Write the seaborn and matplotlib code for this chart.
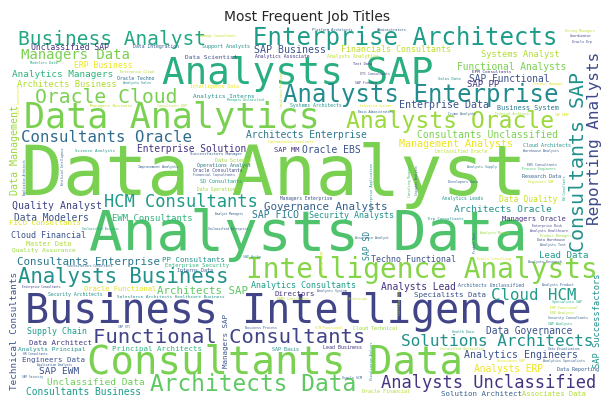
import matplotlib
matplotlib.use("Agg")
import matplotlib.pyplot as plt
import seaborn as sns

sns.set_theme(style="white")
plt.rcParams['font.family'] = ['DejaVu Sans']

# job titles and how large each one is drawn (relative frequency, in px of em)
job_titles = [
    "Data Analyst", "Analysts Data", "Business Intelligence", "Analysts SAP", "Consultants Data",
    "Data Analytics", "Intelligence Analysts", "Enterprise Architects", "Analysts Enterprise", "Analysts Oracle",
    "Architects Data", "Analysts Business", "Functional Consultants", "Consultants SAP", "Oracle Cloud",
    "Business Analyst", "Analysts Unclassified", "HCM Consultants", "Reporting Analysts", "Solutions Architects",
    "Consultants Oracle", "Cloud HCM", "Managers Data", "Consultants Enterprise", "Governance Analysts",
    "Architects SAP", "Data Management", "SAP Business", "Enterprise Data", "Management Analysts",
    "Analytics Engineers", "Quality Analyst", "Consultants Unclassified", "Oracle EBS", "SAP FICO",
    "Data Governance", "Analysts Lead", "SAP Functional", "Analysts ERP", "Functional Analysts",
    "Data Modelers", "Consultants Business", "Architects Enterprise", "Enterprise Solution", "Unclassified Data",
    "SAP EWM", "Architects Oracle", "Analytics Managers", "Technical Consultants", "Lead Data",
    "EWM Consultants", "SAP PP", "Architects Business", "Systems Analyst", "SAP Successfactors",
    "Financials Consultants", "Security Analysts", "Analytics Consultants", "Cloud Financial", "Techno Functional",
    "Supply Chain", "Unclassified SAP", "ERP Business", "Data Quality", "SAP SD",
    "FICO Consultants", "Specialists Data", "Managers SAP", "PP Consultants", "Data Architect",
    "Principal Architects", "Engineers Data", "Directors", "Solution Architect", "Managers Oracle",
    "Associates Data", "Oracle Functional", "SAP MM", "Business System", "Master Data",
    "Data Scientist", "Quality Assurance", "Analysts Principal", "Analytics Interns", "Enterprise Security",
    "Support Analysts", "Data Science", "Operations Analyst", "SD Consultants", "Cloud Architects",
    "Research Data", "Cloud Technical", "Lead Business", "SAP Basis", "Oracle Financial",
    "Data Reporting", "Interns Data", "Data Integration", "Oracle Techno", "Analysts Analytics",
    "Analytics Associate", "Systems Architects", "Security Architects", "Architects Unclassified", "Intelligence Data",
    "Managers Enterprise", "Oracle Consultants", "Data Operations", "Analytics Leads", "Unclassified Oracle",
    "Salesforce Architects Healthcare Business", "EPM Consultants", "Science Analysts", "Managers Business", "Successfactors Manager",
    "Erp Consultants", "Oracle HCM", "Modelers Data", "Enterprise Cloud", "Platform Architects",
    "Administrators", "Text Data", "Sales Data", "Enterprise Application", "Analysts Sales",
    "Improvement Analysts", "Analysts Master", "Associates SAP", "Consultants ERP", "Hiring Managers",
    "Coordinator", "Oracle Erp", "Financial Consultants", "Warehouse Analysts", "Analysts Supply",
    "EBS Consultants", "Developers Data", "Engineers SAP", "Assurance Analyst", "Technician",
    "Oracle Consulting", "Analysts Research", "Enterprise Risk", "Analysts Healthcare", "Product Managers",
    "Data Warehouse", "Analysts Test", "Analysts Product", "Specialists SAP", "ERP Functional",
    "ERP Analysts", "Security Consultants", "SAP Analysts", "Health Data", "Business Process",
    "SCM Functional", "Oracle SCM", "Change Consultants", "OTC Consultants", "SAP Finance",
    "Crime Analysts", "Project Manager", "Process Engineers", "SAP Ariba", "Analysts System",
    "HRMS Consultants", "Analytics Specialists", "Managers Unclassified", "Enterprise Systems", "Basis Administrators",
    "Technical Architects", "SAP ABAP", "Implementation Consultants", "Analyst Managers", "Unclassified Business",
    "Successfactors Consultants", "Enterprise Consultants", "Unclassified Enterprise", "Unclassified Unclassified", "Data Visualization",
    "SAP OTC", "HR Consultants", "Application Analysts", "SAP Security", "Consultants Principal",
    "Consulting Managers", "Insights Analysts", "BW Consultants", "Product Data", "Visualization Analysts",
    "Sales Consultants", "Functional Data", "Application Architects", "Artificial Intelligence",
]
frequency = [
    70, 56, 40, 37.5, 39,
    35, 27.8, 24, 24, 23,
    22.7, 20.7, 20.5, 20, 19.8,
    19.5, 17, 17, 16, 16,
    15.8, 15.7, 14, 10.9, 10.9,
    10.7, 10, 10, 10, 10,
    9.9, 9.9, 9.8, 9.8, 9.8,
    9.7, 9.7, 9.7, 9.7, 9.6,
    9.6, 9.6, 9.6, 9.6, 9.5,
    9.5, 9.5, 9.4, 9.3, 9.2,
    8.9, 8.9, 8.7, 8.6, 8.6,
    8.4, 8.4, 8.4, 8.4, 8.3,
    8.3, 8.1, 8, 8, 8,
    7.5, 7.5, 7.5, 7.4, 7.4,
    7.4, 7.4, 7.4, 7.4, 7.2,
    7.1, 7.1, 7, 6.9, 6.8,
    6.2, 6.2, 6.2, 6, 5.7,
    5, 5, 5, 5, 5,
    5, 5, 5, 5, 5,
    5, 5, 4.9, 4.9, 4.9,
    4.8, 4.8, 4.8, 4.8, 4.7,
    4.6, 4.5, 4.5, 4.5, 4.5,
    4.4, 4.4, 4.1, 4.1, 4,
    4, 4, 3.6, 3.6, 3.6,
    3.6, 3.6, 3.7, 3.5, 3.4,
    3.4, 3.4, 3.4, 3.3, 3.3,
    3.3, 3.3, 3.3, 3.3, 3.3,
    3.3, 3.3, 3.3, 3.3, 3.3,
    3.3, 3.3, 3.3, 3.3, 3.3,
    3.3, 3.3, 3.3, 3.3, 3.3,
    3.3, 3.3, 3.3, 3.3, 3.3,
    3.3, 3.3, 3.2, 3.2, 3.2,
    3.2, 3.2, 3.2, 3.2, 3.2,
    3.2, 3.2, 3, 3, 3,
    3, 3, 3, 3, 3,
    3, 3, 3, 3, 3,
    3, 3, 3, 3, 3,
    3, 3, 3, 3, 3,
    3, 3, 2.8, 2.8,
]

# where the cloud put each word: x, y in image px (left/baseline, or centre/bottom when
# vertical), rotation, position on the viridis map
layout = {
    "Data Analyst": (27, 195, 0, 0.80), "Analysts SAP": (165, 84, 0, 0.63),
    "Analysts Data": (93, 250, 0, 0.72), "Business Intelligence": (28, 323, 0, 0.20),
    "Consultants Data": (90, 374, 0, 0.80), "Data Analytics": (27, 128, 0, 0.80),
    "Intelligence Analysts": (248, 278, 0, 0.82), "Enterprise Architects": (255, 45, 0, 0.55),
    "Analysts Enterprise": (285, 102, 0, 0.48), "Analysts Oracle": (348, 128, 0, 0.85),
    "Architects Data": (152, 391, 0, 0.75), "Analysts Business": (20, 283, 0, 0.50),
    "Functional Consultants": (95, 343, 0, 0.20), "Consultants SAP": (578, 252, 90, 0.50),
    "Oracle Cloud": (37, 103, 0, 0.80), "Business Analyst": (20, 45, 0, 0.60),
    "Analysts Unclassified": (382, 388, 0, 0.15), "HCM Consultants": (105, 207, 0, 0.55),
    "Reporting Analysts": (595, 225, 90, 0.22), "Solutions Architects": (402, 346, 0, 0.50),
    "Consultants Oracle": (22, 142, 0, 0.35), "Cloud HCM": (492, 300, 0, 0.55),
    "Managers Data": (22, 59, 0, 0.80), "Consultants Enterprise": (18, 265, 0, 0.40),
    "Governance Analysts": (265, 210, 0, 0.30), "Architects SAP": (158, 294, 0, 0.75),
    "Data Management": (15, 195, 90, 0.85), "SAP Business": (255, 53, 0, 0.25),
    "Enterprise Data": (400, 108, 0, 0.25), "Management Analysts": (400, 147, 0, 0.97),
    "Analytics Engineers": (465, 358, 0, 0.25), "Quality Analyst": (13, 209, 0, 0.20),
    "Consultants Unclassified": (418, 138, 0, 0.80), "Oracle EBS": (303, 153, 0, 0.25),
    "SAP FICO": (253, 218, 0, 0.40), "Data Governance": (487, 334, 0, 0.25),
    "Analysts Lead": (382, 290, 0, 0.15), "SAP Functional": (470, 82, 0, 0.25),
    "Analysts ERP": (475, 372, 0, 0.98), "Functional Analysts": (458, 70, 0, 0.80),
    "Data Modelers": (15, 221, 0, 0.25), "Consultants Business": (27, 395, 0, 0.55),
    "Architects Enterprise": (247, 138, 0, 0.40), "Enterprise Solution": (138, 152, 0, 0.15),
    "Unclassified Data": (48, 385, 0, 0.78), "SAP EWM": (40, 374, 0, 0.25),
    "Architects Oracle": (455, 212, 0, 0.50), "Analytics Managers": (13, 77, 0, 0.65),
    "Technical Consultants": (15, 390, 90, 0.25), "Lead Data": (540, 258, 0, 0.55),
    "EWM Consultants": (113, 221, 0, 0.65), "SAP PP": (468, 87, 0, 0.15),
    "Architects Business": (18, 87, 0, 0.88), "Systems Analyst": (482, 57, 0, 0.88),
    "SAP Successfactors": (598, 368, 90, 0.50), "Financials Consultants": (342, 52, 0, 0.90),
    "Security Analysts": (310, 218, 0, 0.50), "Analytics Consultants": (252, 288, 0, 0.55),
    "Cloud Financial": (12, 238, 0, 0.25), "Techno Functional": (372, 262, 0, 0.25),
    "Supply Chain": (28, 334, 0, 0.55), "Unclassified SAP": (32, 50, 0, 0.15),
    "ERP Business": (75, 68, 0, 0.97), "Data Quality": (500, 202, 0, 0.92),
    "SAP SD": (367, 260, 90, 0.45), "FICO Consultants": (10, 225, 0, 0.95),
    "Specialists Data": (415, 297, 0, 0.25), "Managers SAP": (226, 368, 90, 0.25),
    "PP Consultants": (163, 262, 0, 0.50), "Data Architect": (30, 345, 0, 0.15),
    "Principal Architects": (113, 351, 0, 0.65), "Engineers Data": (23, 362, 0, 0.25),
    "Directors": (275, 296, 0, 0.15), "Solution Architect": (442, 396, 0, 0.30),
    "Managers Oracle": (503, 221, 0, 0.15), "Associates Data": (523, 396, 0, 0.88),
    "Oracle Functional": (85, 291, 0, 0.95), "SAP MM": (275, 152, 0, 0.15),
    "Business System": (498, 110, 0, 0.40), "Master Data": (27, 246, 0, 0.88),
    "Data Scientist": (185, 59, 0, 0.25), "Quality Assurance": (12, 252, 0, 0.85),
    "Analysts Principal": (18, 351, 0, 0.50), "Analytics Interns": (193, 98, 0, 0.50),
    "Enterprise Security": (165, 267, 0, 0.65), "Support Analysts": (202, 48, 0, 0.50),
    "Data Science": (215, 162, 0, 0.85), "Operations Analyst": (197, 167, 0, 0.40),
    "SD Consultants": (200, 183, 0, 0.55), "Cloud Architects": (523, 147, 0, 0.50),
    "Research Data": (522, 178, 0, 0.30), "Cloud Technical": (353, 330, 0, 0.85),
    "Lead Business": (323, 349, 0, 0.15), "SAP Basis": (272, 351, 0, 0.50),
    "Oracle Financial": (362, 393, 0, 0.88), "Data Reporting": (557, 371, 0, 0.30),
    "Interns Data": (177, 272, 0, 0.30), "Data Integration": (133, 48, 0, 0.30),
    "Oracle Techno": (117, 80, 0, 0.35), "Analysts Analytics": (327, 58, 0, 0.90),
    "Analytics Associate": (255, 58, 0, 0.15), "Systems Architects": (290, 107, 0, 0.50),
    "Security Architects": (48, 296, 0, 0.50), "Architects Unclassified": (458, 287, 0, 0.30),
    "Intelligence Data": (190, 88, 0, 0.97), "Managers Enterprise": (280, 200, 0, 0.25),
    "Oracle Consultants": (193, 172, 0, 0.20), "Data Operations": (197, 191, 0, 0.85),
    "Analytics Leads": (442, 200, 0, 0.50), "Unclassified Oracle": (435, 153, 0, 0.90),
    "Salesforce Architects Healthcare Business": (117, 298, 0, 0.50),
    "EPM Consultants": (472, 73, 0, 0.15), "Science Analysts": (75, 152, 0, 0.55),
    "Managers Business": (90, 107, 0, 0.90), "Successfactors Manager": (190, 155, 0, 0.30),
    "Erp Consultants": (428, 220, 0, 0.50), "Oracle HCM": (323, 275, 90, 0.92),
    "Modelers Data": (30, 64, 0, 0.60), "Enterprise Cloud": (120, 73, 0, 0.88),
    "Platform Architects": (312, 31, 0, 0.30), "Administrators": (377, 31, 0, 0.30),
    "Text Data": (353, 65, 0, 0.15), "Sales Data": (438, 80, 0, 0.50),
    "Enterprise Application": (372, 210, 90, 0.50), "Analysts Sales": (123, 84, 0, 0.50),
    "Improvement Analysts": (138, 168, 0, 0.30), "Analysts Master": (480, 234, 0, 0.85),
    "Associates SAP": (497, 362, 0, 0.95), "Consultants ERP": (157, 107, 0, 0.90),
    "Hiring Managers": (565, 32, 0, 0.90), "Coordinator": (570, 37, 0, 0.20),
    "Oracle Erp": (572, 43, 0, 0.20), "Financial Consultants": (193, 176, 0, 0.25),
    "Warehouse Analysts": (523, 152, 0, 0.30), "Analysts Supply": (467, 168, 0, 0.40),
    "EBS Consultants": (527, 166, 0, 0.30), "Developers Data": (448, 183, 0, 0.30),
    "Engineers SAP": (528, 183, 0, 0.92), "Assurance Analyst": (355, 239, 0, 0.30),
    "Technician": (348, 300, 0, 0.90), "Oracle Consulting": (477, 260, 0, 0.95),
    "Analysts Research": (528, 263, 0, 0.30), "Enterprise Risk": (532, 227, 0, 0.20),
    "Analysts Healthcare": (530, 232, 0, 0.20), "Product Managers": (540, 237, 0, 0.85),
    "Data Warehouse": (537, 241, 0, 0.20), "Analysts Test": (540, 246, 0, 0.30),
    "Analysts Product": (542, 286, 0, 0.30), "Specialists SAP": (552, 303, 0, 0.60),
    "ERP Functional": (550, 309, 0, 0.90), "ERP Analysts": (550, 314, 0, 0.88),
    "Security Consultants": (548, 319, 0, 0.30), "SAP Analysts": (548, 325, 0, 0.60),
    "Health Data": (452, 333, 0, 0.50), "Business Process": (245, 329, 0, 0.30),
    "SCM Functional": (315, 329, 0, 0.95), "Oracle SCM": (342, 379, 0, 0.30),
    "Change Consultants": (200, 37, 0, 0.90), "OTC Consultants": (360, 75, 0, 0.20),
    "SAP Finance": (355, 84, 0, 0.20), "Crime Analysts": (448, 115, 0, 0.30),
    "Project Manager": (533, 85, 0, 0.95), "Process Engineers": (522, 170, 0, 0.70),
    "SAP Ariba": (243, 258, 0, 0.50), "Analysts System": (317, 292, 0, 0.30),
    "HRMS Consultants": (277, 300, 0, 0.90), "Analytics Specialists": (543, 362, 0, 0.30),
    "Managers Unclassified": (227, 101, 0, 0.60), "Enterprise Systems": (360, 107, 0, 0.95),
    "Basis Administrators": (358, 113, 0, 0.35), "Technical Architects": (495, 115, 0, 0.85),
    "SAP ABAP": (555, 116, 0, 0.95), "Implementation Consultants": (268, 143, 0, 0.95),
    "Analyst Managers": (215, 215, 0, 0.30), "Unclassified Business": (82, 230, 0, 0.60),
    "Successfactors Consultants": (67, 267, 0, 0.30), "Enterprise Consultants": (22, 288, 0, 0.20),
    "Unclassified Enterprise": (208, 230, 0, 0.30), "Unclassified Unclassified": (440, 350, 0, 0.88),
    "Data Visualization": (548, 350, 0, 0.30), "SAP OTC": (118, 328, 0, 0.30),
    "HR Consultants": (23, 355, 0, 0.30), "Application Analysts": (37, 366, 0, 0.30),
    "SAP Security": (22, 378, 0, 0.30), "Consultants Principal": (282, 108, 90, 0.90),
    "Consulting Managers": (410, 197, 90, 0.70), "Insights Analysts": (417, 195, 90, 0.30),
    "BW Consultants": (565, 200, 90, 0.60), "Product Data": (475, 253, 90, 0.30),
    "Visualization Analysts": (372, 380, 90, 0.50), "Sales Consultants": (19, 115, 90, 0.95),
    "Functional Data": (400, 315, 90, 0.90), "Application Architects": (25, 195, 90, 0.30),
    "Artificial Intelligence": (63, 185, 90, 0.30),
}

cmap = sns.color_palette("viridis", as_cmap=True)

fig = plt.figure(figsize=(6.1, 4.08), dpi=100)
ax = fig.add_axes([0, 0, 1, 1])
ax.set_xlim(0, 610)
ax.set_ylim(408, 0)
ax.axis("off")

for title, em in zip(job_titles, frequency):
    x, y, rot, shade = layout[title]
    size = em * 0.72  # px of em -> points at 100 dpi
    if rot:
        ax.text(x, y, title, rotation=90, ha="center", va="bottom", fontsize=size,
                family="DejaVu Sans Mono", color=cmap(shade))
    else:
        ax.text(x - 0.08 * em, y, title, ha="left", va="baseline", fontsize=size,
                family="DejaVu Sans Mono", color=cmap(shade))

fig.text(307 / 610, 1 - 17 / 408, "Most Frequent Job Titles", ha="center", va="center", fontsize=10)
fig.savefig("out.png", dpi=100)
